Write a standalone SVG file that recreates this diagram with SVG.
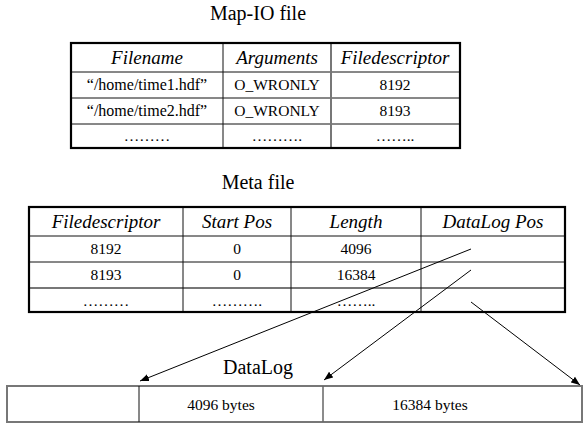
<svg xmlns="http://www.w3.org/2000/svg" width="583" height="425" viewBox="0 0 583 425" font-family="'Liberation Serif', 'Times New Roman', Times, 'DejaVu Serif', serif">
<style>
text{font-family:'Liberation Serif','Times New Roman',Times,'DejaVu Serif',serif;fill:#000;text-anchor:middle}
.title{font-size:20px}
.hd{font-size:19px;font-style:italic}
.cell{font-size:15.5px}
.fn{font-size:16px}
.outer{fill:none;stroke:#000;stroke-width:2.2}
.thin{stroke:#111;stroke-width:1}
.gray{stroke:#777;stroke-width:2}
.conn{stroke:#000;stroke-width:1;fill:none}
</style>
<defs>
<marker id="ah" viewBox="0 0 10 10" refX="10" refY="5" markerWidth="9" markerHeight="9" markerUnits="userSpaceOnUse" orient="auto">
<path d="M0,1 L10,5 L0,9 z" fill="#000"/>
</marker>
</defs>
<rect width="583" height="425" fill="#fff"/>

<g id="mapio">
<text class="title" x="258" y="20">Map-IO file</text>
<line class="thin" x1="71" y1="72" x2="460" y2="72"/>
<line class="thin" x1="71" y1="98" x2="460" y2="98"/>
<line class="thin" x1="71" y1="124" x2="460" y2="124" stroke="#444"/>
<line class="thin" x1="223" y1="43" x2="223" y2="148"/>
<line class="gray" x1="331" y1="43" x2="331" y2="148"/>
<rect class="outer" x="71" y="43" width="389" height="105"/>
<text class="hd" x="147" y="64">Filename</text>
<text class="hd" x="277" y="64">Arguments</text>
<text class="hd" x="395" y="64">Filedescriptor</text>
<text class="cell fn" x="147" y="90">“/home/time1.hdf”</text>
<text class="cell" x="277" y="90">O_WRONLY</text>
<text class="cell" x="395" y="90">8192</text>
<text class="cell fn" x="147" y="116">“/home/time2.hdf”</text>
<text class="cell" x="277" y="116">O_WRONLY</text>
<text class="cell" x="395" y="116">8193</text>
<text class="cell" x="147" y="141">………</text>
<text class="cell" x="277" y="141">……….</text>
<text class="cell" x="395" y="141">……..</text>
</g>

<g id="meta">
<text class="title" x="258" y="189">Meta file</text>
<line class="thin" x1="29" y1="236" x2="565" y2="236"/>
<line class="thin" x1="29" y1="262" x2="565" y2="262"/>
<line class="gray" x1="29" y1="288" x2="565" y2="288"/>
<line class="thin" x1="183" y1="207" x2="183" y2="312"/>
<line class="thin" x1="291" y1="207" x2="291" y2="312"/>
<line class="thin" x1="421" y1="207" x2="421" y2="312"/>
<rect class="outer" x="29" y="207" width="536" height="105"/>
<text class="hd" x="106" y="228">Filedescriptor</text>
<text class="hd" x="237" y="228">Start Pos</text>
<text class="hd" x="356" y="228">Length</text>
<text class="hd" x="493" y="228">DataLog Pos</text>
<text class="cell" x="106" y="254">8192</text>
<text class="cell" x="237" y="254">0</text>
<text class="cell" x="356" y="254">4096</text>
<text class="cell" x="106" y="280">8193</text>
<text class="cell" x="237" y="280">0</text>
<text class="cell" x="356" y="280">16384</text>
<text class="cell" x="106" y="306">………</text>
<text class="cell" x="237" y="306">……….</text>
<text class="cell" x="356" y="306">……..</text>
</g>

<g id="datalog">
<text class="title" x="258" y="374">DataLog</text>
<rect x="7" y="386" width="575" height="36" fill="none" stroke="#777" stroke-width="2"/>
<line class="thin" x1="139" y1="386" x2="139" y2="422"/>
<line x1="323" y1="386" x2="323" y2="422" stroke="#666" stroke-width="1.5"/>
<text class="cell" x="221" y="410">4096 bytes</text>
<text class="cell" x="430" y="410">16384 bytes</text>
</g>

<g id="connectors">
<line class="conn" x1="471" y1="249" x2="140" y2="381" marker-end="url(#ah)"/>
<line class="conn" x1="471" y1="270" x2="324" y2="380" marker-end="url(#ah)"/>
<line class="conn" x1="471" y1="302" x2="580" y2="385" marker-end="url(#ah)"/>
</g>
</svg>
